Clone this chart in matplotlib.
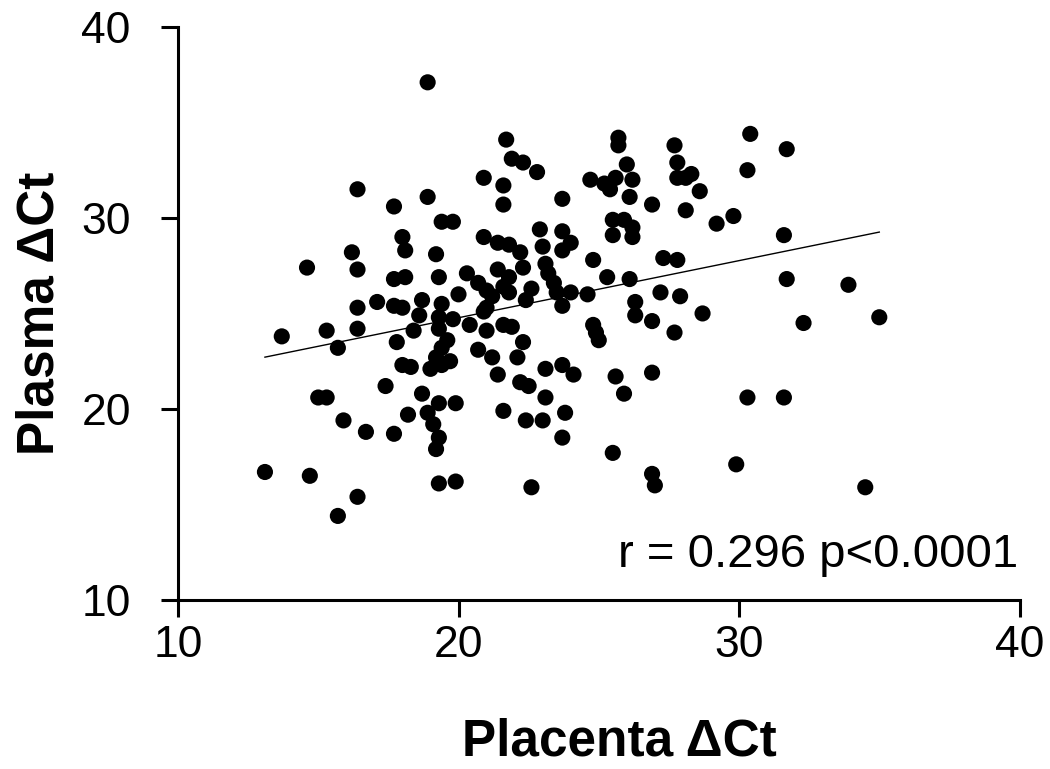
import numpy as np
import matplotlib
matplotlib.use('Agg')
import matplotlib.pyplot as plt

# *****************************************************************************

# Placenta dCt vs plasma dCt
placenta_dct = [
    13.1, 13.7, 14.6, 14.7, 15.0, 15.3, 15.3, 15.7, 15.7, 15.9,
    16.2, 16.4, 16.4, 16.4, 16.4, 16.4, 16.7, 17.1, 17.4, 17.7,
    18.0, 17.7, 17.7, 17.7, 18.1, 17.8, 18.0, 18.3, 18.0, 18.1,
    18.2, 18.4, 18.6, 18.7, 18.7, 18.9, 18.9, 18.9, 19.1, 19.3,
    19.2, 19.2, 19.3, 19.3, 19.9, 19.3, 19.9, 19.4, 19.8, 19.0,
    19.4, 19.7, 19.4, 19.2, 19.6, 19.3, 19.3, 19.8, 19.4, 20.0,
    20.3, 20.4, 20.7, 21.0, 21.2, 21.4, 21.6, 21.9, 22.1, 22.3,
    22.2, 22.5, 21.6, 22.4, 23.0, 22.6, 23.1, 23.7, 24.1, 23.1,
    23.8, 23.7, 25.6, 25.9, 26.9, 25.5, 26.9, 27.0, 29.9, 30.3,
    31.6, 34.5, 35.0, 33.9, 32.3, 31.7, 31.6, 31.7, 30.4, 30.3,
    29.8, 29.2, 28.6, 28.7, 27.7, 27.9, 27.2, 26.9, 26.3, 26.3,
    27.3, 27.8, 26.1, 25.3, 24.8, 24.6, 24.8, 24.9, 25.0, 23.5,
    23.7, 24.0, 23.0, 23.1, 23.2, 23.4, 22.6, 22.9, 23.7, 24.0,
    23.7, 23.7, 24.7, 25.2, 25.6, 25.4, 26.0, 26.2, 26.1, 25.5,
    25.9, 26.2, 25.5, 26.2, 25.7, 25.7, 26.9, 27.7, 27.8, 27.8,
    28.1, 28.3, 28.1, 21.7, 21.9, 22.3, 22.8, 20.9, 21.6, 21.6,
    20.9, 21.4, 21.8, 22.2, 21.4, 21.8, 21.6, 21.8, 20.7, 21.0,
    21.2, 21.0, 20.9, 22.3, 22.4,
]
plasma_dct = [
    16.7, 23.8, 27.4, 16.5, 20.6, 20.6, 24.1, 23.2, 14.4, 19.4,
    28.2, 25.3, 24.2, 15.4, 31.5, 27.3, 18.8, 25.6, 21.2, 25.4,
    25.3, 18.7, 30.6, 26.8, 26.9, 23.5, 22.3, 22.2, 29.0, 28.3,
    19.7, 24.1, 24.9, 25.7, 20.8, 37.1, 31.1, 19.8, 19.2, 18.5,
    17.9, 28.1, 26.9, 20.3, 20.3, 16.1, 16.2, 29.8, 29.8, 22.1,
    22.3, 22.5, 23.2, 22.7, 23.6, 24.8, 24.2, 24.7, 25.5, 26.0,
    27.1, 24.4, 23.1, 24.1, 22.7, 21.8, 24.4, 24.3, 22.7, 23.5,
    21.4, 21.2, 19.9, 19.4, 19.4, 15.9, 22.1, 22.3, 21.8, 20.6,
    19.8, 18.5, 21.7, 20.8, 21.9, 17.7, 16.6, 16.0, 17.1, 20.6,
    20.6, 15.9, 24.8, 26.5, 24.5, 26.8, 29.1, 33.6, 34.4, 32.5,
    30.1, 29.7, 31.4, 25.0, 24.0, 25.9, 26.1, 24.6, 25.6, 24.9,
    27.9, 27.8, 26.8, 26.9, 27.8, 26.0, 24.4, 24.0, 23.6, 26.1,
    25.4, 26.1, 28.5, 27.6, 27.1, 26.6, 26.3, 29.4, 29.3, 28.7,
    28.3, 31.0, 32.0, 31.8, 32.1, 31.5, 32.8, 32.0, 31.1, 29.9,
    29.9, 29.5, 29.1, 29.0, 34.2, 33.8, 30.7, 33.8, 32.9, 32.1,
    32.1, 32.3, 30.4, 34.1, 33.1, 32.9, 32.4, 32.1, 31.7, 30.7,
    29.0, 28.7, 28.6, 28.2, 27.3, 26.9, 26.4, 26.1, 26.6, 26.2,
    25.9, 25.3, 25.1, 27.4, 25.7,
]

x_ticks = [10, 20, 30, 40]
y_ticks = [10, 20, 30, 40]
stat_text = 'r = 0.296 p<0.0001'

# *****************************************************************************


def make_fig():

    plt.rcParams['font.family'] = ['Liberation Sans', 'DejaVu Sans']

    xv = np.array(placenta_dct)
    yv = np.array(plasma_dct)

    fig01 = plt.figure(figsize=(10.5, 7.69), dpi=100)
    axs01 = fig01.add_axes([0.1695, 0.2198, 0.8015, 0.7452])

    axs01.scatter(xv, yv, s=135, color='black', edgecolors='none', zorder=3)

    # Linear fit over the data range
    slope, icpt = np.polyfit(xv, yv, 1)
    xfit = np.array([xv.min(), xv.max()])
    axs01.plot(xfit, icpt + slope*xfit, color='black', lw=1.0, zorder=2)

    axs01.set_xlim(10, 40)
    axs01.set_ylim(10, 40)
    axs01.set_xticks(x_ticks)
    axs01.set_yticks(y_ticks)

    for side in ['top', 'right']:
        axs01.spines[side].set_visible(False)
    for side in ['left', 'bottom']:
        axs01.spines[side].set_linewidth(2.2)

    axs01.tick_params(axis='both', direction='out', length=12, width=2.2,
                      labelsize=32, colors='black')
    axs01.tick_params(axis='y', pad=22)
    axs01.tick_params(axis='x', pad=6)

    axs01.set_xlabel('Placenta \u0394Ct', fontsize=37, fontweight='bold')
    axs01.xaxis.set_label_coords(0.525, -0.205)
    axs01.set_ylabel('Plasma \u0394Ct', fontsize=37, fontweight='bold',
                     labelpad=12)

    axs01.text(0.998, 0.078, stat_text, transform=axs01.transAxes,
               ha='right', va='center', fontsize=34)

    plt.savefig('out.png', dpi=100)
    plt.close()

    return None

# *****************************************************************************


if (__name__ == "__main__"):

    make_fig()

# *****************************************************************************
